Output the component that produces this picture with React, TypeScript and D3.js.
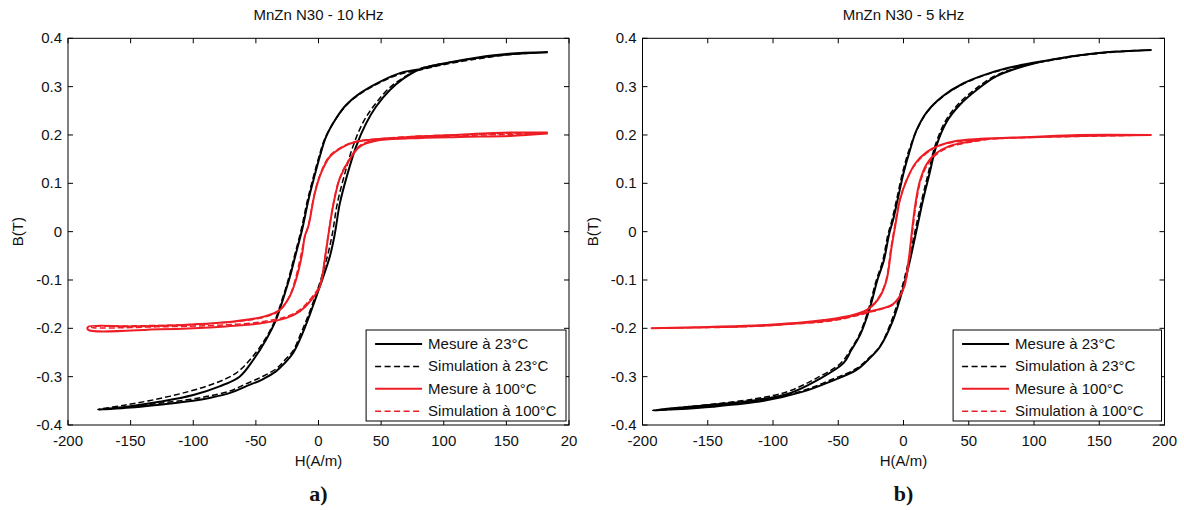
import React from "react";
import * as d3 from "d3";

// ---------- data (H in A/m, B in T) ----------
// Panel a) MnZn N30 - 10 kHz
const A_mes23_H = [183, 152, 126, 99, 81, 65, 49, 33, 22, 14, 6, 1, -4, -8, -13, -18, -23, -28, -34, -42, -52, -63, -79, -100, -127, -153, -176,
  -150, -127, -100, -87, -70, -58, -45, -34, -27, -20, -13, -7, 1, 9, 13, 17, 23, 30, 38, 46, 57, 68, 81, 100, 126, 152, 183];
const A_mes23_B = [0.371, 0.367, 0.359, 0.347, 0.336, 0.328, 0.310, 0.286, 0.262, 0.234, 0.196, 0.155, 0.107, 0.066, 0.005, -0.045, -0.095, -0.137, -0.183, -0.224, -0.265, -0.300, -0.320, -0.338, -0.352, -0.362, -0.368,
  -0.364, -0.358, -0.350, -0.344, -0.333, -0.320, -0.306, -0.289, -0.272, -0.250, -0.212, -0.172, -0.114, -0.052, -0.005, 0.058, 0.118, 0.176, 0.224, 0.259, 0.293, 0.317, 0.336, 0.348, 0.360, 0.368, 0.371];

const A_sim23_H = [183, 152, 126, 99, 80, 64, 48, 32, 21, 13, 5, 0, -5, -9, -14, -19, -24, -29, -35, -43, -54, -66, -82, -104, -130, -155, -176,
  -150, -127, -100, -87, -70, -58, -45, -34, -27, -20, -14, -8, 0, 7, 11, 15, 21, 28, 36, 45, 56, 68, 81, 100, 126, 152, 183];
const A_sim23_B = [0.371, 0.366, 0.357, 0.345, 0.334, 0.325, 0.307, 0.283, 0.258, 0.230, 0.192, 0.152, 0.104, 0.063, 0.002, -0.048, -0.098, -0.140, -0.185, -0.224, -0.263, -0.293, -0.313, -0.331, -0.347, -0.359, -0.368,
  -0.362, -0.355, -0.346, -0.340, -0.329, -0.315, -0.300, -0.284, -0.266, -0.245, -0.210, -0.172, -0.114, -0.052, -0.005, 0.058, 0.120, 0.180, 0.228, 0.263, 0.296, 0.319, 0.337, 0.348, 0.359, 0.367, 0.371];

const A_mes100_H = [183, 153, 107, 73, 46, 30, 20, 9, 2, -3, -8, -11, -13, -18, -23, -31, -44, -68, -108, -150, -184,
  -184, -127, -74, -47, -26, -15, -7, 1, 5, 8, 12, 17, 25, 33, 46, 73, 113, 153, 183];
const A_mes100_B = [0.205, 0.205, 0.200, 0.196, 0.191, 0.186, 0.176, 0.155, 0.121, 0.079, 0.012, -0.010, -0.045, -0.100, -0.134, -0.162, -0.176, -0.186, -0.193, -0.196, -0.197,
  -0.203, -0.202, -0.196, -0.190, -0.179, -0.165, -0.145, -0.114, -0.058, -0.005, 0.058, 0.110, 0.150, 0.176, 0.188, 0.193, 0.196, 0.198, 0.203];

const A_sim100_H = [183, 150, 110, 75, 48, 31, 20, 9, 2, -3, -8, -11, -14, -19, -24, -32, -45, -70, -110, -150, -181,
  -181, -130, -75, -47, -26, -15, -7, 1, 5, 8, 12, 17, 25, 33, 46, 73, 113, 150, 183];
const A_sim100_B = [0.204, 0.203, 0.200, 0.197, 0.192, 0.187, 0.177, 0.157, 0.123, 0.081, 0.014, -0.012, -0.048, -0.103, -0.138, -0.165, -0.178, -0.187, -0.193, -0.195, -0.197,
  -0.198, -0.197, -0.193, -0.187, -0.176, -0.162, -0.141, -0.111, -0.055, -0.003, 0.060, 0.112, 0.151, 0.178, 0.190, 0.195, 0.199, 0.201, 0.204];

// Panel b) MnZn N30 - 5 kHz
const B_mes23_H = [190, 160, 135, 110, 84, 66, 46, 30, 18, 10, 5, 0, -4, -8, -11, -15, -20, -26, -33, -40, -46, -66, -87, -112, -146, -175, -192,
  -146, -107, -77, -56, -36, -26, -18, -8, 0, 5, 10, 15, 20, 25, 33, 43, 56, 71, 87, 110, 135, 160, 190];
const B_mes23_B = [0.376, 0.372, 0.365, 0.354, 0.341, 0.328, 0.307, 0.280, 0.248, 0.210, 0.169, 0.121, 0.072, 0.024, -0.005, -0.059, -0.100, -0.160, -0.212, -0.245, -0.272, -0.307, -0.334, -0.348, -0.358, -0.365, -0.370,
  -0.362, -0.350, -0.331, -0.310, -0.286, -0.262, -0.238, -0.183, -0.114, -0.059, 0.003, 0.066, 0.121, 0.176, 0.227, 0.262, 0.293, 0.321, 0.338, 0.354, 0.365, 0.372, 0.376];

const B_sim23_H = [190, 160, 135, 110, 84, 66, 46, 30, 18, 10, 4, -1, -5, -9, -12, -16, -21, -27, -34, -41, -48, -68, -89, -114, -147, -175, -192,
  -146, -107, -77, -56, -36, -26, -18, -9, -1, 4, 9, 14, 19, 24, 32, 42, 55, 70, 87, 110, 135, 160, 190];
const B_sim23_B = [0.376, 0.371, 0.364, 0.353, 0.340, 0.327, 0.306, 0.279, 0.247, 0.209, 0.167, 0.119, 0.070, 0.022, -0.007, -0.061, -0.102, -0.162, -0.214, -0.246, -0.272, -0.305, -0.331, -0.346, -0.357, -0.365, -0.370,
  -0.361, -0.348, -0.329, -0.307, -0.283, -0.260, -0.237, -0.183, -0.114, -0.059, 0.003, 0.066, 0.121, 0.176, 0.228, 0.264, 0.295, 0.322, 0.339, 0.354, 0.365, 0.372, 0.376];

const B_mes100_H = [190, 135, 97, 59, 41, 28, 18, 9, 2.5, -2.7, -6, -9, -13, -18, -26, -38, -61, -100, -125, -160, -193,
  -150, -107, -56, -36, -26, -18, -8, 0, 4, 6.3, 9, 12.6, 17.8, 24, 35, 52, 66, 84, 135, 190];
const B_mes100_B = [0.200, 0.200, 0.196, 0.192, 0.188, 0.179, 0.165, 0.141, 0.107, 0.066, 0.017, -0.030, -0.100, -0.134, -0.158, -0.172, -0.183, -0.193, -0.196, -0.198, -0.200,
  -0.197, -0.193, -0.183, -0.172, -0.165, -0.160, -0.150, -0.118, -0.058, -0.003, 0.055, 0.105, 0.140, 0.160, 0.177, 0.187, 0.192, 0.194, 0.198, 0.200];

const B_sim100_H = [190, 135, 97, 59, 41, 28, 18, 9, 2, -3, -6.5, -9.5, -13.5, -19, -27, -39, -62, -100, -125, -160, -193,
  -150, -107, -56, -36, -26, -18, -8, 0, 4.5, 6.8, 9.5, 13, 18.5, 25, 36, 53, 66, 84, 135, 190];
const B_sim100_B = [0.200, 0.199, 0.195, 0.191, 0.186, 0.178, 0.163, 0.139, 0.105, 0.064, 0.015, -0.032, -0.102, -0.136, -0.160, -0.174, -0.185, -0.194, -0.197, -0.199, -0.200,
  -0.198, -0.194, -0.185, -0.174, -0.167, -0.161, -0.151, -0.119, -0.058, -0.003, 0.055, 0.104, 0.139, 0.159, 0.176, 0.186, 0.191, 0.194, 0.197, 0.200];

const xTickValues = [-200, -150, -100, -50, 0, 50, 100, 150, 200];
const xTickLabelsA = ["-200", "-150", "-100", "-50", "0", "50", "100", "150", "20"];
const xTickLabelsB = ["-200", "-150", "-100", "-50", "0", "50", "100", "150", "200"];
const yTickValues = [-0.4, -0.3, -0.2, -0.1, 0, 0.1, 0.2, 0.3, 0.4];
const yTickLabels = ["-0.4", "-0.3", "-0.2", "-0.1", "0", "0.1", "0.2", "0.3", "0.4"];
const legendLabels = ["Mesure à 23°C", "Simulation à 23°C", "Mesure à 100°C", "Simulation à 100°C"];

const RED = "#ee1c24";
const FONT = "'Liberation Sans', Arial, sans-serif";
const FS = 15;

type Series = { H: number[]; B: number[]; color: string; dashed: boolean };

function Panel(props: {
  left: number; right: number; top: number; bottom: number;
  title: string; xLabels: string[]; tag: string; series: Series[];
}) {
  const { left, right, top, bottom, title, xLabels, tag, series } = props;
  const x = d3.scaleLinear().domain([-200, 200]).range([left, right]);
  const y = d3.scaleLinear().domain([-0.4, 0.4]).range([bottom, top]);
  const line = d3.line<[number, number]>()
    .x((d) => x(d[0]))
    .y((d) => y(d[1]))
    .curve(d3.curveCatmullRom.alpha(0.5));
  const cx = (left + right) / 2;
  const tl = 5;
  const legL = left + (right - left) * 0.595;
  const legR = right - 3;
  const legT = 330;
  const legB = 421;
  return (
    <g>
      <text x={cx} y={20} textAnchor="middle" fontSize={FS} fontFamily={FONT} fill="#111">{title}</text>
      {series.map((s, i) => (
        <path key={i} d={line(s.H.map((h, j) => [h, s.B[j]] as [number, number])) || ""}
          fill="none" stroke={s.color} strokeWidth={s.dashed ? 1.5 : 2}
          strokeDasharray={s.dashed ? "6,3" : undefined} strokeLinejoin="round" />
      ))}
      <rect x={left} y={top} width={right - left} height={bottom - top} fill="none" stroke="#000" strokeWidth={1} />
      {xTickValues.map((v, i) => (
        <g key={"x" + i}>
          <line x1={x(v)} x2={x(v)} y1={bottom} y2={bottom - tl} stroke="#000" />
          <line x1={x(v)} x2={x(v)} y1={top} y2={top + tl} stroke="#000" />
          <text x={x(v)} y={446} textAnchor="middle" fontSize={FS} fontFamily={FONT} fill="#111">{xLabels[i]}</text>
        </g>
      ))}
      {yTickValues.map((v, i) => (
        <g key={"y" + i}>
          <line x1={left} x2={left + tl} y1={y(v)} y2={y(v)} stroke="#000" />
          <line x1={right} x2={right - tl} y1={y(v)} y2={y(v)} stroke="#000" />
          <text x={left - 6} y={y(v) + 5} textAnchor="end" fontSize={FS} fontFamily={FONT} fill="#111">{yTickLabels[i]}</text>
        </g>
      ))}
      <text x={cx} y={466} textAnchor="middle" fontSize={FS} fontFamily={FONT} fill="#111">H(A/m)</text>
      <text transform={`translate(${left - 45},${(top + bottom) / 2}) rotate(-90)`} textAnchor="middle" fontSize={FS} fontFamily={FONT} fill="#111">B(T)</text>
      <text x={cx} y={501} textAnchor="middle" fontSize={22} fontWeight="bold" fontFamily="'Liberation Serif', 'Times New Roman', serif" fill="#111">{tag}</text>
      <rect x={legL} y={legT} width={legR - legL} height={legB - legT} fill="#fff" stroke="#000" strokeWidth={1} />
      {legendLabels.map((lab, i) => {
        const ly = 344 + i * 22.4;
        const s = series[i];
        return (
          <g key={"l" + i}>
            <line x1={legL + 9} x2={legL + 56} y1={ly} y2={ly} stroke={s.color} strokeWidth={s.dashed ? 1.5 : 2} strokeDasharray={s.dashed ? "6,3.5" : undefined} />
            <text x={legL + 62} y={ly + 5} fontSize={FS} fontFamily={FONT} fill="#111">{lab}</text>
          </g>
        );
      })}
    </g>
  );
}

export default function App() {
  const seriesA: Series[] = [
    { H: A_mes23_H, B: A_mes23_B, color: "#000", dashed: false },
    { H: A_sim23_H, B: A_sim23_B, color: "#000", dashed: true },
    { H: A_mes100_H, B: A_mes100_B, color: RED, dashed: false },
    { H: A_sim100_H, B: A_sim100_B, color: RED, dashed: true },
  ];
  const seriesB: Series[] = [
    { H: B_mes23_H, B: B_mes23_B, color: "#000", dashed: false },
    { H: B_sim23_H, B: B_sim23_B, color: "#000", dashed: true },
    { H: B_mes100_H, B: B_mes100_B, color: RED, dashed: false },
    { H: B_sim100_H, B: B_sim100_B, color: RED, dashed: true },
  ];
  return (
    <svg width={1184} height={510} style={{ position: "absolute", left: 0, top: 0, background: "#fff" }}>
      <rect x={0} y={0} width={1184} height={510} fill="#fff" />
      <Panel left={68} right={569} top={38.3} bottom={425} title="MnZn N30 - 10 kHz" xLabels={xTickLabelsA} tag="a)" series={seriesA} />
      <Panel left={642.5} right={1164.5} top={38.3} bottom={425} title="MnZn N30 - 5 kHz" xLabels={xTickLabelsB} tag="b)" series={seriesB} />
    </svg>
  );
}
